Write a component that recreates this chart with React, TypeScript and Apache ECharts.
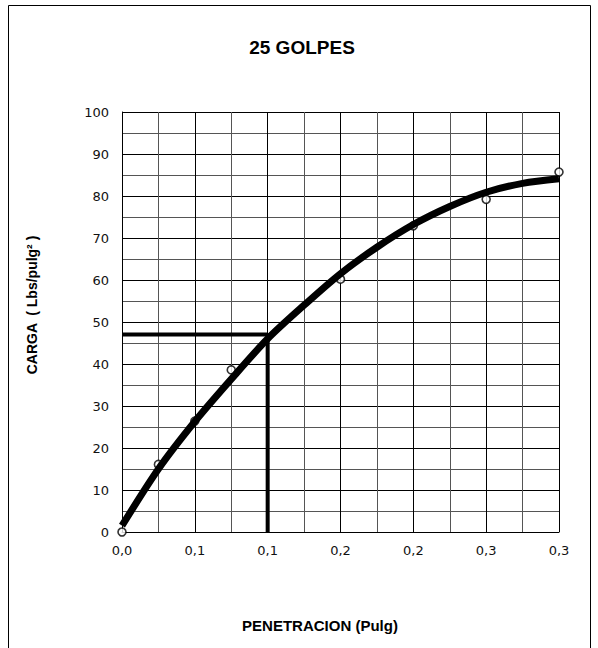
import React, { useEffect, useRef } from "react";
import * as echarts from "echarts";

const titleText = "25 GOLPES";
const xAxisTitle = "PENETRACION (Pulg)";
const yAxisTitle = "CARGA  ( Lbs/pulg² )";

const xTickLabels = ["0,0", "0,1", "0,1", "0,2", "0,2", "0,3", "0,3"];

// measured points (open circles)
const pointX = [0, 0.025, 0.05, 0.075, 0.15, 0.2, 0.25, 0.3];
const pointY = [0, 16.1, 26.4, 38.6, 60.2, 72.9, 79.2, 85.7];

// fitted curve
const curveX = [0, 0.025, 0.05, 0.075, 0.1, 0.125, 0.15, 0.175, 0.2, 0.225, 0.25, 0.275, 0.3];
const curveY = [1.5, 15, 26.3, 36.4, 46, 54, 61.5, 67.8, 73.2, 77.5, 80.9, 83, 84.1];

// reading at 0.1 inch
const refX = [0, 0.1, 0.1];
const refY = [47, 47, 0];

export default function App() {
  const ref = useRef<HTMLDivElement>(null);
  useEffect(() => {
    if (!ref.current) return;
    const chart = echarts.init(ref.current, undefined, { renderer: "svg" });
    const tickFont = "DejaVu Sans";
    chart.setOption({
      animation: false,
      backgroundColor: "#ffffff",
      grid: { left: 122, top: 112, width: 437, height: 420, containLabel: false },
      xAxis: {
        type: "value",
        min: 0,
        max: 0.3,
        interval: 0.05,
        axisLine: { show: true, lineStyle: { color: "#000", width: 1 } },
        axisTick: { show: false },
        axisLabel: {
          margin: 12,
          color: "#111",
          fontFamily: tickFont,
          fontSize: 13,
          formatter: (v: number) => xTickLabels[Math.round(v / 0.05)] ?? "",
        },
        splitLine: { show: true, lineStyle: { color: "#000", width: 1 } },
        minorTick: { show: false, splitNumber: 2 },
        minorSplitLine: { show: true, lineStyle: { color: "#555", width: 1 } },
      },
      yAxis: {
        type: "value",
        min: 0,
        max: 100,
        interval: 10,
        axisLine: { show: true, lineStyle: { color: "#000", width: 1 } },
        axisTick: { show: false },
        axisLabel: {
          margin: 13,
          color: "#111",
          fontFamily: tickFont,
          fontSize: 13,
        },
        splitLine: { show: true, lineStyle: { color: "#000", width: 1 } },
        minorTick: { show: false, splitNumber: 2 },
        minorSplitLine: { show: true, lineStyle: { color: "#555", width: 1 } },
      },
      graphic: [
        {
          type: "rect",
          shape: { x: 8.5, y: 5.5, width: 582, height: 660 },
          style: { fill: "none", stroke: "#000", lineWidth: 1 },
          silent: true,
        },
        {
          type: "text",
          x: 302,
          y: 47,
          style: {
            text: titleText,
            fontFamily: "Liberation Sans",
            fontWeight: "bold",
            fontSize: 19,
            fill: "#000",
            textAlign: "center",
            textVerticalAlign: "middle",
          },
        },
        {
          type: "text",
          x: 320,
          y: 625,
          style: {
            text: xAxisTitle,
            fontFamily: "Liberation Sans",
            fontWeight: "bold",
            fontSize: 15,
            fill: "#000",
            textAlign: "center",
            textVerticalAlign: "middle",
          },
        },
        {
          type: "text",
          x: 32,
          y: 305,
          rotation: Math.PI / 2,
          style: {
            text: yAxisTitle,
            fontFamily: "Liberation Sans",
            fontWeight: "bold",
            fontSize: 14,
            fill: "#000",
            textAlign: "center",
            textVerticalAlign: "middle",
          },
        },
      ],
      series: [
        {
          type: "line",
          name: "Lectura",
          data: refX.map((x, i) => [x, refY[i]]),
          showSymbol: false,
          symbol: "none",
          lineStyle: { color: "#000", width: 4 },
          z: 3,
        },
        {
          type: "scatter",
          name: "Ensayo",
          data: pointX.map((x, i) => [x, pointY[i]]),
          symbol: "circle",
          symbolSize: 8,
          itemStyle: { color: "#fff", borderColor: "#000", borderWidth: 1.6 },
          z: 4,
        },
        {
          type: "line",
          name: "Curva",
          data: curveX.map((x, i) => [x, curveY[i]]),
          smooth: 0.3,
          showSymbol: false,
          symbol: "none",
          lineStyle: { color: "#000", width: 7 },
          z: 5,
        },
      ],
    });
    return () => chart.dispose();
  }, []);
  return (
    <div
      ref={ref}
      style={{ position: "fixed", left: 0, top: 0, width: 598, height: 648, background: "#fff" }}
    />
  );
}
